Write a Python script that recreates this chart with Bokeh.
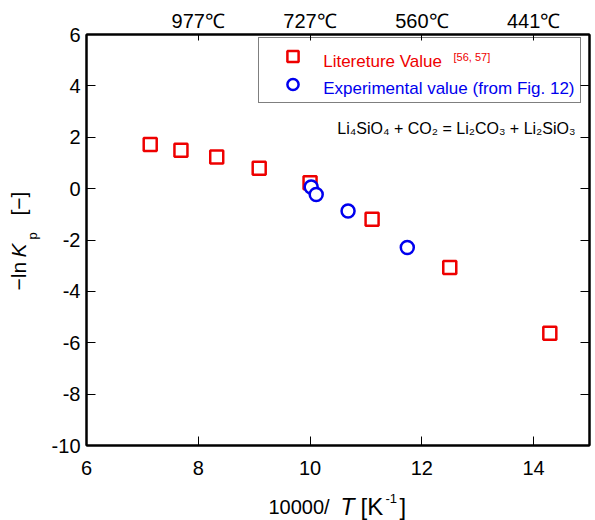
import numpy as np
from bokeh.plotting import figure
from bokeh.layouts import row, column
from bokeh.models import Range1d, LinearAxis, FixedTicker, Label, Legend, LegendItem
from bokeh.core.properties import value
from bokeh.embed import file_html
from bokeh.resources import INLINE

# ---- data ----
lit_x = [7.14, 7.69, 8.33, 9.09, 10.0, 11.11, 12.5, 14.29]
lit_y = [1.72, 1.49, 1.23, 0.79, 0.23, -1.19, -3.07, -5.63]
exp_x = [10.02, 10.11, 10.68, 11.74]
exp_y = [0.06, -0.23, -0.87, -2.29]

x_ticks = [6, 8, 10, 12, 14]
x_tick_labels = ["6", "8", "10", "12", "14"]
y_ticks = [-10, -8, -6, -4, -2, 0, 2, 4, 6]
y_tick_labels = ["-10", "-8", "-6", "-4", "-2", "0", "2", "4", "6"]
top_ticks = [8, 10, 12, 14]
top_tick_labels = ["977\u2103", "727\u2103", "560\u2103", "441\u2103"]

lit_name = "Litereture Value"
lit_ref = "[56, 57]"
exp_name = "Experimental value (from Fig. 12)"
equation = "Li\u2084SiO\u2084 + CO\u2082 = Li\u2082CO\u2083 + Li\u2082SiO\u2083"

FONT = "Liberation Sans"
RED = "#ee0000"
BLUE = "#0000ee"


def blank_fig(w, h):
    f = figure(width=w, height=h, x_range=Range1d(0, 1), y_range=Range1d(0, 1),
               output_backend="svg", toolbar_location=None,
               x_axis_location=None, y_axis_location=None,
               min_border_left=0, min_border_right=0, min_border_top=0, min_border_bottom=0)
    f.grid.visible = False
    f.outline_line_color = None
    f.background_fill_color = "white"
    f.border_fill_color = "white"
    return f


p = figure(width=547, height=488, x_range=Range1d(6, 15), y_range=Range1d(-10, 6),
           output_backend="svg", toolbar_location=None,
           x_axis_location=None, y_axis_location=None,
           min_border_left=38, min_border_right=6, min_border_top=34, min_border_bottom=43)
p.grid.visible = False
p.outline_line_color = "black"
p.outline_line_width = 2
p.background_fill_color = "white"
p.border_fill_color = "white"


def style_axis(ax, ticks, labels, standoff, size="20px"):
    ax.ticker = FixedTicker(ticks=ticks)
    ax.major_label_overrides = {t: l for t, l in zip(ticks, labels)}
    ax.major_tick_in = 9
    ax.major_tick_out = 0
    ax.minor_tick_line_color = None
    ax.axis_line_color = "black"
    ax.axis_line_width = 2
    ax.major_tick_line_color = "black"
    ax.major_tick_line_width = 1
    ax.major_label_text_font = FONT
    ax.major_label_text_font_size = size
    ax.major_label_text_color = "black"
    ax.major_label_standoff = standoff


bottom = LinearAxis()
style_axis(bottom, x_ticks, x_tick_labels, 15)
p.add_layout(bottom, "below")

top = LinearAxis()
style_axis(top, top_ticks, top_tick_labels, 3)
top.major_tick_in = 6
p.add_layout(top, "above")

left = LinearAxis()
style_axis(left, y_ticks, y_tick_labels, 6)
p.add_layout(left, "left")

right = LinearAxis()
style_axis(right, y_ticks, ["" for _ in y_ticks], 0)
p.add_layout(right, "right")

r_lit = p.scatter(lit_x, lit_y, marker="square", size=13, line_color=RED,
                  line_width=2.5, fill_color=None)
r_exp = p.scatter(exp_x, exp_y, marker="circle", size=13, line_color=BLUE,
                  line_width=2.5, fill_color="white")

legend = Legend(items=[LegendItem(label=value(" "), renderers=[r_lit]),
                       LegendItem(label=value(" "), renderers=[r_exp])],
                location=(172, 342), glyph_width=59, glyph_height=28, spacing=0,
                padding=4, label_standoff=1, label_width=253, label_height=20, margin=0,
                border_line_color="black", border_line_width=1.5,
                background_fill_alpha=0.0)
p.add_layout(legend)


def lab(fig, text, x, y, size, color="black", style="normal", angle=0.0, align="left"):
    fig.add_layout(Label(x=x, y=y, x_units="screen", y_units="screen", text=text,
                         text_font=FONT, text_font_size=size, text_color=color,
                         text_font_style=style, angle=angle, text_align=align,
                         text_baseline="alphabetic", level="overlay"))


# legend texts
lab(p, lit_name, 236.7, 384, "17px", RED)
lab(p, lit_ref, 367, 389, "11px", RED)
lab(p, exp_name, 236.7, 357.5, "17px", BLUE)

# reaction equation
lab(p, equation, 489, 317.5, "16px", align="right")

# x axis label: 10000/ T [K^-1]  (strip below the plot; its frame is aligned with the plot frame)
xl = blank_fig(547, 32)
lab(xl, "10000/", 182, 14, "20px")
lab(xl, "T", 254, 14, "23px", style="italic")
lab(xl, "[K", 274, 14, "24px")
lab(xl, "-1", 299, 22, "13px")
lab(xl, "]", 313, 14, "24px")

# y axis label: -ln K_p [-]  (strip left of the plot)
yl = blank_fig(48, 520)
A = np.pi / 2
lab(yl, "\u2212ln", 18, 230, "21px", angle=A)
lab(yl, "K", 18, 263, "21px", style="italic", angle=A)
lab(yl, "p", 32, 281, "13px", angle=A)
lab(yl, "[\u2212]", 18, 305, "21px", angle=A)

layout = row(yl, column(p, xl, spacing=0), spacing=0)

open("out.html", "w").write(file_html(layout, INLINE))
